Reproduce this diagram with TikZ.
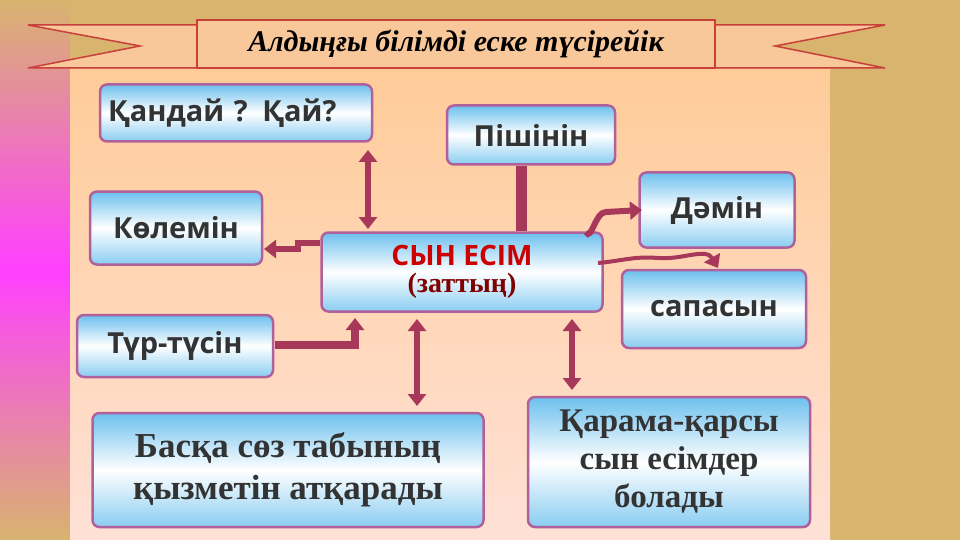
\documentclass[tikz,border=0pt]{standalone}
\usepackage{fontspec}
\setmainfont{Liberation Serif}
\setsansfont{Open Sans}
\usetikzlibrary{arrows.meta,positioning}
\definecolor{arrowred}{HTML}{A8385A}
\definecolor{boxline}{HTML}{B0609A}
\definecolor{boxblue}{HTML}{6CC0EE}
\definecolor{ribbon}{HTML}{F8C79A}
\definecolor{ribbonline}{HTML}{C8403A}
\definecolor{gold}{HTML}{D8B46E}
\tikzset{
	kbox/.style={draw=boxline, line width=2.5pt, rounded corners=7pt,
		top color=boxblue, bottom color=boxblue!80, middle color=white,
		font=\sffamily\bfseries\fontsize{29}{33}\selectfont, text=black!80, align=center},
	sbox/.style={kbox, font=\rmfamily\bfseries\fontsize{35}{42}\selectfont},
	karrow/.style={draw=arrowred, line width=6pt, -{Triangle[length=12pt,width=18pt]}},
	kdouble/.style={karrow, {Triangle[length=12pt,width=18pt]}-{Triangle[length=12pt,width=18pt]}}
}
\begin{document}
\begin{tikzpicture}[x=1pt,y=-1pt]
	\useasboundingbox (0,0) rectangle (960,540);
	% background
	\shade[top color=gold, bottom color=magenta!75] (0,0) rectangle (70,270);
	\shade[top color=magenta!75, bottom color=gold] (0,270) rectangle (70,540);
	\fill[gold] (70,0) rectangle (960,70);
	\fill[gold] (830,70) rectangle (960,540);
	\shade[top color=orange!40, bottom color=orange!20!pink!40] (70,70) rectangle (830,540);
	% title ribbon
	\draw[ribbonline, fill=ribbon, line width=1.5pt] (28,25) -- (240,25) -- (240,68) -- (28,68) -- (140,46) -- cycle;
	\draw[ribbonline, fill=ribbon, line width=1.5pt] (885,25) -- (670,25) -- (670,68) -- (885,68) -- (775,46) -- cycle;
	\node[draw=ribbonline, fill=ribbon, line width=1.5pt, minimum width=518pt, minimum height=48pt,
		font=\rmfamily\bfseries\itshape\fontsize{30}{34}\selectfont] (title) at (456,44) {Алдыңғы білімді еске түсірейік};
	% boxes
	\node[kbox, minimum width=272pt, minimum height=57pt, text width=256pt, align=left] (kanday) at (236,113) {Қандай ? Қай?};
	\node[kbox, minimum width=168pt, minimum height=59pt] (pishin) at (531,135) {Пішінін};
	\node[kbox, minimum width=155pt, minimum height=75pt] (damin) at (717,210) {Дәмін};
	\node[kbox, minimum width=172pt, minimum height=73pt] (kolem) at (176,228) {Көлемін};
	\node[kbox, minimum width=281pt, minimum height=79pt, font=\sffamily\bfseries\fontsize{28}{29}\selectfont] (syn) at (462,272)
		{\textcolor{red!80!black}{СЫН ЕСІМ}\\[-2pt]{\rmfamily\textcolor{red!50!black}{(заттың)}}};
	\node[kbox, minimum width=184pt, minimum height=78pt] (sapa) at (714,309) {сапасын};
	\node[kbox, minimum width=196pt, minimum height=62pt] (tur) at (175,346) {Түр-түсін};
	\node[sbox, minimum width=391pt, minimum height=114pt] (baska) at (288,470) {Басқа сөз табының\\қызметін атқарады};
	\node[sbox, minimum width=282pt, minimum height=130pt, font=\rmfamily\bfseries\fontsize{33}{38}\selectfont] (karama) at (669,462) {Қарама-қарсы\\сын есімдер\\болады};
	% connectors
	\coordinate (a1) at (368,150); \coordinate (a2) at (368,229);
	\coordinate (b1) at (417,319); \coordinate (b2) at (417,406);
	\coordinate (c1) at (572,319); \coordinate (c2) at (572,390);
	\coordinate (d1) at (586,232); \coordinate (d2) at (642,210);
	\coordinate (e1) at (598,263); \coordinate (e2) at (718,268);
	\coordinate (f1) at (320,243); \coordinate (f2) at (264,247);
	\coordinate (g1) at (275,345); \coordinate (g2) at (355,318);
	\draw[kdouble] (a1) -- (a2);
	\draw[kdouble] (b1) -- (b2);
	\draw[kdouble] (c1) -- (c2);
	\draw[draw=arrowred, line width=11pt] (pishin.south -| 521,0) -- (syn.north -| 521,0);
	\draw[karrow] (d1) to[out=-60,in=180] ++(20,-20) -- (d2);
	\draw[karrow, line width=4pt] (e1) to[out=5,in=175] ++(60,-5) to[out=-5,in=120] (e2);
	\draw[karrow] (f1) -- ++(-22,0) -- ++(0,6) -- (f2 |- 0,249);
	\draw[karrow, line width=8pt] (g1) -- (g1 -| g2) -- (g2);
\end{tikzpicture}
\end{document}
